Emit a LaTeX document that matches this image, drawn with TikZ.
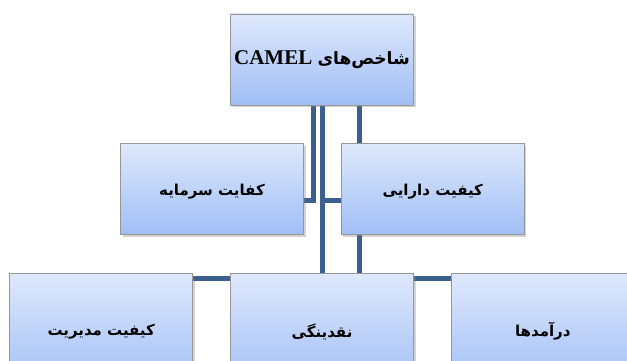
\documentclass[tikz,border=0pt]{standalone}
\usepackage{fontspec}
\usepackage{xcolor}
\usepackage{tikz}
\usetikzlibrary{positioning,shadows,backgrounds}
\TeXXeTstate=1
\newfontfamily\arabicfont[Script=Arabic]{DejaVu Sans}
\newfontfamily\latinfont{Liberation Serif}
\definecolor{linkblue}{RGB}{59,96,143}
\definecolor{boxtop}{RGB}{222,232,252}
\definecolor{boxbottom}{RGB}{160,190,245}
\definecolor{boxedge}{RGB}{150,150,150}

\begin{document}
\begin{tikzpicture}[x=1pt,y=-1pt,
	bluenode/.style={rectangle, draw=boxedge, line width=0.8pt, top color=boxtop, bottom color=boxbottom, minimum width=183pt, minimum height=91pt, drop shadow={shadow xshift=2pt, shadow yshift=-2pt, opacity=0.35}, font=\arabicfont\bfseries\fontsize{15}{18}\selectfont},
	link/.style={draw=linkblue, line width=5pt},
	]
	\useasboundingbox (0,0) rectangle (627,361);
	%Nodes
	\node[bluenode](root)[inner sep=1pt] at (322,59.5){\beginR {\fontsize{17}{20}\selectfont شاخص‌های} \beginL{\latinfont\bfseries\fontsize{21}{24}\selectfont CAMEL}\endL\endR};
	\node[bluenode](cap)[text height=17pt, below=38pt of root, xshift=-110pt]{\beginR کفایت سرمایه\endR};
	\node[bluenode](asset)[text height=17pt, right=37pt of cap]{\beginR کیفیت دارایی\endR};

	\node[bluenode](liq)[minimum height=116pt, below=38pt of cap, xshift=110pt]{\beginR نقدینگی\endR};
	\node[bluenode](mgmt)[minimum height=116pt, left=37pt of liq]{\beginR کیفیت مدیریت\endR};
	\node[bluenode](earn)[minimum height=116pt, right=37pt of liq]{\beginR درآمدها\endR};

	%Lines
	\begin{pgfonlayer}{background}
	\draw[link] ([xshift=-9pt]root.south) |- ([yshift=-11pt]cap.east);
	\draw[link] (root.south) |- ([yshift=-11pt]asset.west);
	\draw[link] (root.south) -- (liq.north);
	\draw[link] ([xshift=37pt]root.south) |- ([yshift=-5pt]mgmt.north east);
	\draw[link] ([xshift=37pt]root.south) |- ([yshift=-5pt]earn.north west);
	\end{pgfonlayer}

\end{tikzpicture}
\end{document}
